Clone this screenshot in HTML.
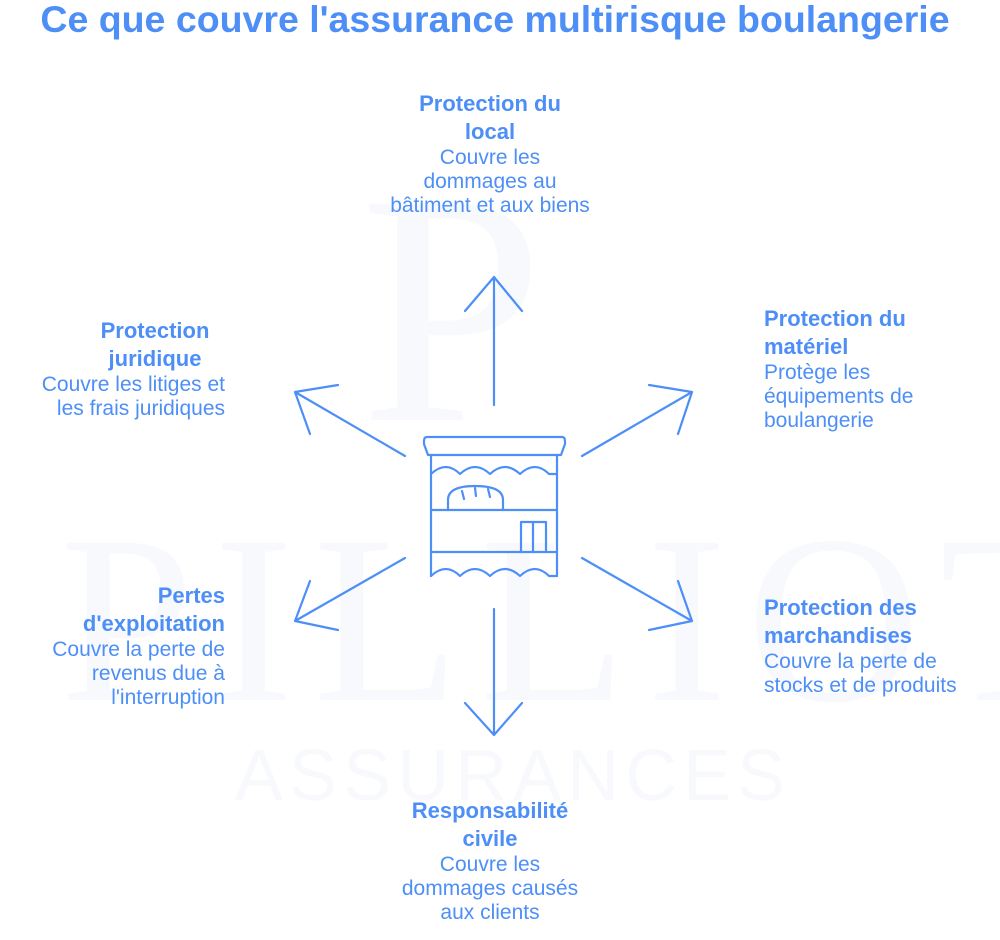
<!DOCTYPE html>
<html><head><meta charset="utf-8"><style>
body{margin:0;width:1000px;height:940px;background:#fff;font-family:"Liberation Sans",sans-serif;position:relative;overflow:hidden}
.t{position:absolute;color:#4d8ff7;font-size:21px;line-height:24px}
.t b{display:block;font-size:22px;line-height:28px}
h1{position:absolute;top:-3px;left:0;width:990px;margin:0;text-align:center;color:#4d8ff7;font-size:37.5px;line-height:44px;font-weight:bold;white-space:nowrap}
.c{text-align:center}.r{text-align:right}
</style></head><body>
<svg width="1000" height="940" style="position:absolute;left:0;top:0">
<g fill="#f8f9fd" font-family="Liberation Serif">
<text x="360" y="420" font-size="330">P</text>
<text x="60" y="700" font-size="240" letter-spacing="20">PILLIOT</text>
<text x="235" y="800" font-size="72" font-family="Liberation Sans" letter-spacing="6" fill="#f8f9fc">ASSURANCES</text>
</g>
<g fill="none" stroke="#4d8ff7" stroke-width="2.2" stroke-linecap="round" stroke-linejoin="round">
<path d="M494 405V277M465 311L494 277L522 311"/>
<path d="M405 456L295 392M338 385L295 392L310 434"/>
<path d="M582 456L692 392M649 385L692 392L678 434"/>
<path d="M405 558L295 621M310 581L295 621L338 630"/>
<path d="M582 558L692 621M678 581L692 621L649 630"/>
<path d="M494 609V735M465 703L494 735L522 703"/>
<path d="M427 437H562Q565 437 565 441V444L561 455H428L424 444V441Q424 437 427 437Z"/>
<path d="M431 455V576M557 455V576"/>
<path d="M431 474Q446 460 460 474Q475 460 490 474Q505 460 520 474Q535 460 549 474L557 474"/>
<path d="M431 576Q446 562 460 576Q475 562 490 576Q505 562 520 576Q535 562 549 576L557 576"/>
<path d="M448 510V500Q448 486 475 486Q503 486 503 500V510"/>
<path d="M462 491L464 499M475 488L476 496M488 489L490 497"/>
<path d="M431 510H557M431 552H557"/>
<path d="M521 552V522H546V552M533 522V552"/>
</g></svg>
<h1>Ce que couvre l'assurance multirisque boulangerie</h1>
<div class="t c" style="left:370px;top:90px;width:240px"><b>Protection du<br>local</b>Couvre les<br>dommages au<br>bâtiment et aux biens</div>
<div class="t r" style="left:5px;top:317px;width:220px"><b style="text-align:center;padding-left:70px;margin-right:-10px">Protection<br>juridique</b>Couvre les litiges et<br>les frais juridiques</div>
<div class="t" style="left:764px;top:305px;width:230px"><b>Protection du<br>matériel</b>Protège les<br>équipements de<br>boulangerie</div>
<div class="t r" style="left:5px;top:582px;width:220px"><b>Pertes<br>d'exploitation</b>Couvre la perte de<br>revenus due à<br>l'interruption</div>
<div class="t" style="left:764px;top:594px;width:236px"><b>Protection des<br>marchandises</b>Couvre la perte de<br>stocks et de produits</div>
<div class="t c" style="left:370px;top:797px;width:240px"><b>Responsabilité<br>civile</b>Couvre les<br>dommages causés<br>aux clients</div>
</body></html>
